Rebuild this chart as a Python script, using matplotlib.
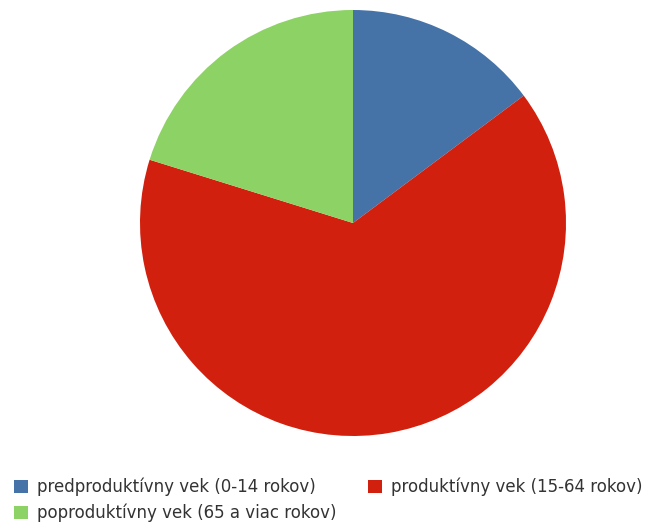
import matplotlib.pyplot as plt
from matplotlib.patches import Patch

# dáta
kategorie = ["predproduktívny vek (0-14 rokov)",
             "produktívny vek (15-64 rokov)",
             "poproduktívny vek (65 a viac rokov)"]
hodnoty = [14.8, 65.0, 20.2]
farby = ["#4572A7", "#D2200E", "#8CD264"]

fig = plt.figure(figsize=(6.51, 5.27), dpi=100)
W, H = 651, 527
ax = fig.add_axes([140 / W, (H - 436) / H, 426 / W, 426 / H])
ax.pie(hodnoty, colors=farby, startangle=90, counterclock=False,
       wedgeprops={"linewidth": 0})
ax.set_xlim(-1, 1)
ax.set_ylim(-1, 1)
ax.set_aspect("equal")

# poradie v legende: stĺpec 1 = modrá, zelená; stĺpec 2 = červená
handles = [Patch(facecolor=farby[0]), Patch(facecolor=farby[2]), Patch(facecolor=farby[1])]
labels = [kategorie[0], kategorie[2], kategorie[1]]
fig.legend(handles, labels, ncol=2, frameon=False, loc="upper left",
           bbox_to_anchor=(14 / W, (H - 478) / H), borderpad=0, borderaxespad=0,
           fontsize=12, handlelength=0.84, handleheight=0.84, handletextpad=0.54,
           columnspacing=1.9, labelspacing=0.45, labelcolor="#333333")

fig.savefig("out.png", dpi=100)
